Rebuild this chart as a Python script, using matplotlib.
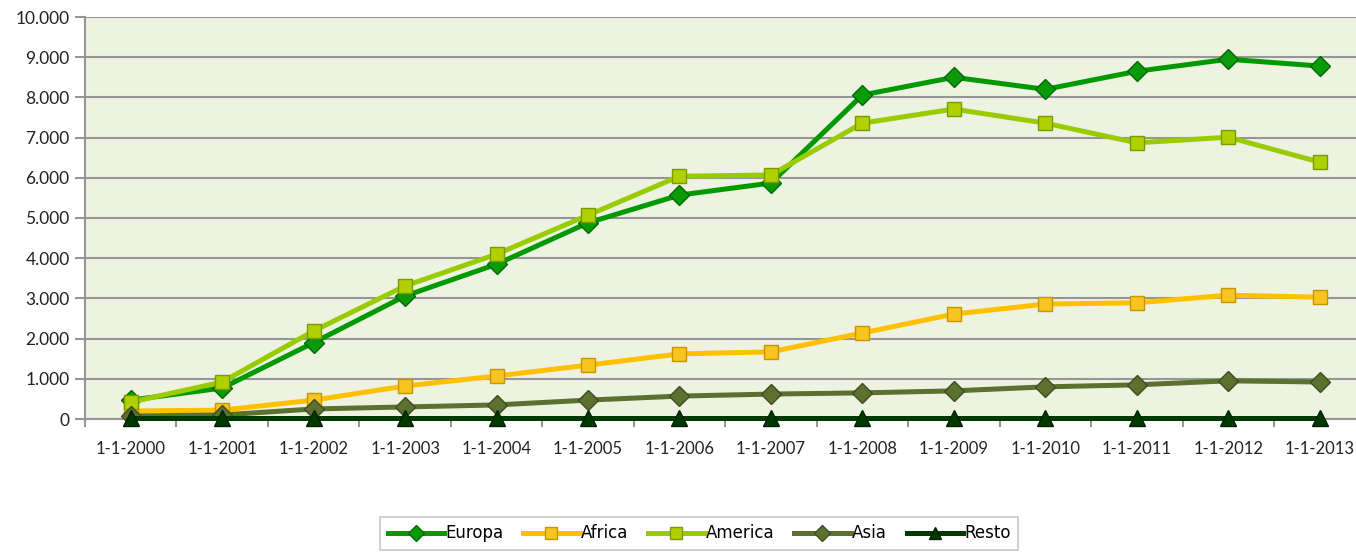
import matplotlib
matplotlib.use("Agg")
import matplotlib.pyplot as plt
from matplotlib.ticker import FuncFormatter, FixedLocator

categories = ["1-1-2000", "1-1-2001", "1-1-2002", "1-1-2003", "1-1-2004", "1-1-2005", "1-1-2006",
              "1-1-2007", "1-1-2008", "1-1-2009", "1-1-2010", "1-1-2011", "1-1-2012", "1-1-2013"]
europa = [470, 770, 1900, 3060, 3850, 4880, 5570, 5870, 8060, 8500, 8200, 8650, 8950, 8780]
africa = [200, 220, 470, 820, 1070, 1340, 1620, 1670, 2140, 2610, 2860, 2890, 3080, 3030]
america = [420, 920, 2190, 3310, 4100, 5070, 6040, 6070, 7360, 7710, 7360, 6870, 7010, 6390]
asia = [75, 100, 250, 300, 350, 470, 570, 620, 650, 700, 800, 850, 950, 920]
resto = [15, 15, 15, 15, 15, 15, 15, 15, 15, 15, 15, 15, 15, 15]

fig = plt.figure(figsize=(13.56, 5.52), dpi=100)
ax = fig.add_axes([85/1356, 1-419/552, 1-85/1356, (419-17)/552])
ax.set_facecolor("#EDF2E1")

x = list(range(len(categories)))
series = [
    ("Europa", europa, "#009A00", "D", "#0A9A0A", "#006A00", 10.5),
    ("Africa", africa, "#FFC000", "s", "#F7C520", "#C89400", 10),
    ("America", america, "#99CC00", "s", "#B0D000", "#7A9A00", 10),
    ("Asia", asia, "#5C7030", "D", "#5C7030", "#3E4E20", 10.5),
    ("Resto", resto, "#003A00", "^", "#003A00", "#002200", 11),
]
for name, vals, lc, mk, mfc, mec, ms in series:
    ax.plot(x, vals, color=lc, lw=3.6, marker=mk, markersize=ms,
            markerfacecolor=mfc, markeredgecolor=mec, markeredgewidth=1.0,
            label=name, zorder=3, clip_on=False)

ax.set_ylim(0, 10000)
ax.set_yticks(range(0, 10001, 1000))
ax.yaxis.set_major_formatter(FuncFormatter(lambda v, p: f"{int(v):,}".replace(",", ".")))
ax.grid(axis="y", color="#969696", lw=1.5, zorder=1)
ax.set_axisbelow(True)

ax.set_xlim(-0.5, -0.5 + (1356 - 85) / 91.46)
ax.set_xticks(x)
ax.set_xticklabels(categories)
ax.xaxis.set_minor_locator(FixedLocator([i + 0.5 for i in range(-1, 14)]))
ax.tick_params(axis="x", which="major", length=0, pad=16, labelsize=12, colors="#222222")
ax.tick_params(axis="x", which="minor", length=6, width=1.5, color="#969696", direction="out")
ax.tick_params(axis="y", length=7, width=1.5, color="#969696", labelsize=12.5, pad=4, labelcolor="#222222")
for lbl in ax.get_xticklabels() + ax.get_yticklabels():
    lbl.set_family("Lato")

for s in ["top", "right"]:
    ax.spines[s].set_visible(False)
for s in ["left", "bottom"]:
    ax.spines[s].set_color("#969696")
    ax.spines[s].set_linewidth(1.5)

leg = fig.legend(loc="lower center", bbox_to_anchor=(699/1356, 2/552), ncol=5,
                 frameon=True, fancybox=False, edgecolor="#BBBBBB",
                 handlelength=3.4, handletextpad=0.05, columnspacing=1.2,
                 borderpad=0.45, borderaxespad=0, markerscale=0.8,
                 prop={"family": "DejaVu Sans", "size": 12})
leg.get_frame().set_linewidth(1.2)

fig.savefig("out.png", dpi=100)
